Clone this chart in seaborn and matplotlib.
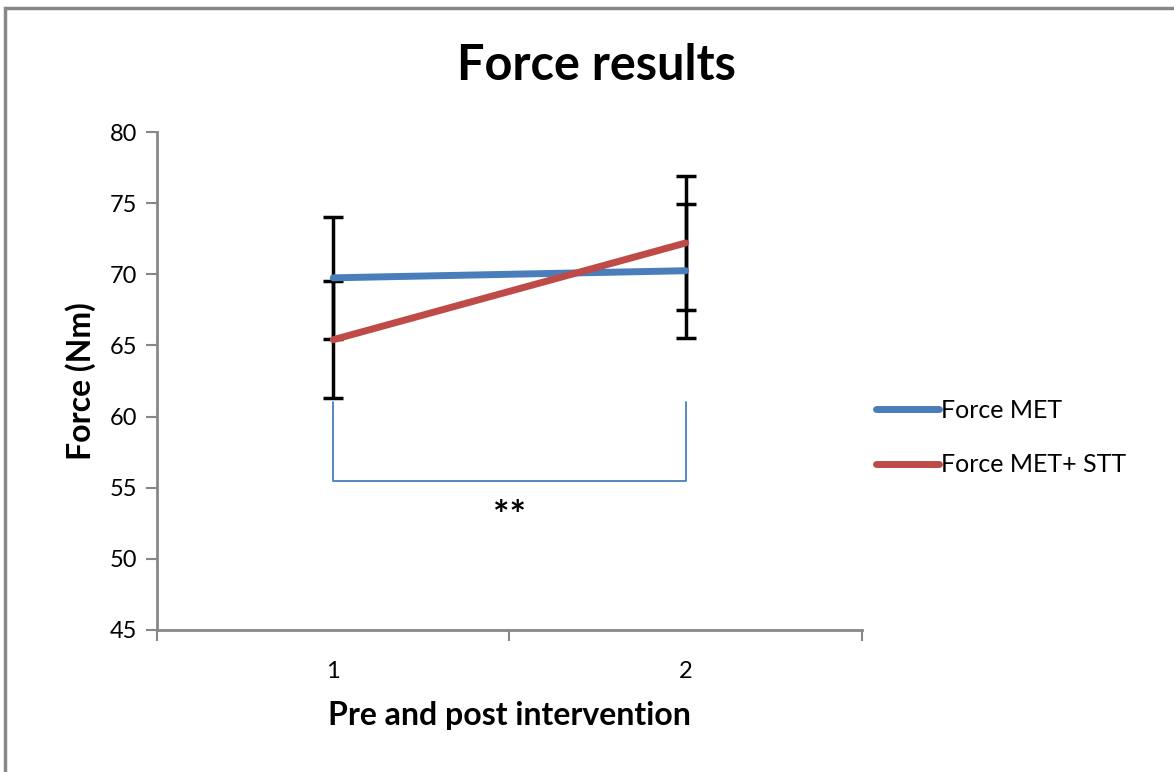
import numpy as np
import pandas as pd
import matplotlib
matplotlib.use('Agg')
import matplotlib.pyplot as plt
import seaborn as sns
from matplotlib.patches import Rectangle
from matplotlib.lines import Line2D

# Data
timepoints = [1, 2]
force_met = [69.75, 70.25]
force_met_stt = [65.4, 72.2]
err_met = [4.3, 4.7]
err_met_stt = [4.1, 4.7]
series_names = ['Force MET', 'Force MET+ STT']
series_colors = ['#4a7ebb', '#be4b48']

# significance bracket
bracket_top = 61.0
bracket_bottom = 55.5
star_y = 53.0

df = pd.DataFrame({
    'Time': timepoints * 2,
    'Force': force_met + force_met_stt,
    'Err': err_met + err_met_stt,
    'Group': [series_names[0]] * 2 + [series_names[1]] * 2,
})

sns.set_theme(style='white')
plt.rcParams['font.family'] = ['Lato', 'DejaVu Sans']
plt.rcParams['text.color'] = 'black'
plt.rcParams['axes.labelcolor'] = 'black'

fig = plt.figure(figsize=(11.74, 7.72), dpi=100)
ax = fig.add_axes([0.1337, 0.184, 0.6005, 0.645])

# error bars
for name in series_names:
    sub = df[df['Group'] == name]
    ax.errorbar(sub['Time'], sub['Force'], yerr=sub['Err'], fmt='none',
                ecolor='black', elinewidth=2.5, capsize=7, capthick=2.5, zorder=2)

sns.lineplot(data=df, x='Time', y='Force', hue='Group', palette=series_colors,
             linewidth=5, ax=ax, legend=False, zorder=3,
             solid_capstyle='round')

# bracket
ax.plot([timepoints[0], timepoints[0], timepoints[1], timepoints[1]],
        [bracket_top, bracket_bottom, bracket_bottom, bracket_top],
        color='#4a7ebb', linewidth=1.3, zorder=1)
ax.text(np.mean(timepoints), star_y, '**', ha='center', va='center',
        fontsize=28, fontweight='bold')

ax.set_xlim(0.5, 2.5)
ax.set_ylim(45, 80)
ax.set_yticks(np.arange(45, 81, 5))
ax.set_xticks([0.5, 1.5, 2.5])
ax.set_xticklabels([])
ax.set_xticks(timepoints, minor=True)
ax.set_xticklabels([str(t) for t in timepoints], minor=True)
ax.tick_params(axis='x', which='major', direction='out', length=8, width=1.5,
               color='#878787', bottom=True)
ax.tick_params(axis='x', which='minor', length=0, labelsize=17, pad=22,
               labelcolor='black')
ax.tick_params(axis='y', direction='out', length=8, width=1.5, color='#878787',
               left=True, labelsize=17, pad=6, labelcolor='black')

for side in ['top', 'right']:
    ax.spines[side].set_visible(False)
for side in ['left', 'bottom']:
    ax.spines[side].set_color('#878787')
    ax.spines[side].set_linewidth(2)

ax.set_xlabel('Pre and post intervention', fontsize=23, fontweight='bold', labelpad=14)
ax.set_ylabel('Force (Nm)', fontsize=23, fontweight='bold', labelpad=10)

fig.text(0.508, 0.915, 'Force results', ha='center', va='center',
         fontsize=35, fontweight='bold')

handles = [Line2D([0], [0], color=c, linewidth=5, solid_capstyle='round') for c in series_colors]
fig.legend(handles, series_names, loc='center left', bbox_to_anchor=(0.738, 0.433),
           frameon=False, fontsize=18, handlelength=2.5, handletextpad=0.1,
           labelspacing=1.25, borderaxespad=0)

# outer chart frame (only top and left visible in the crop)
fig.patches.append(Rectangle((0.004, -0.1), 1.2, 0.09 + 1.0, transform=fig.transFigure,
                             fill=False, edgecolor='#888888', linewidth=2.5))

fig.savefig('out.png', dpi=100)
